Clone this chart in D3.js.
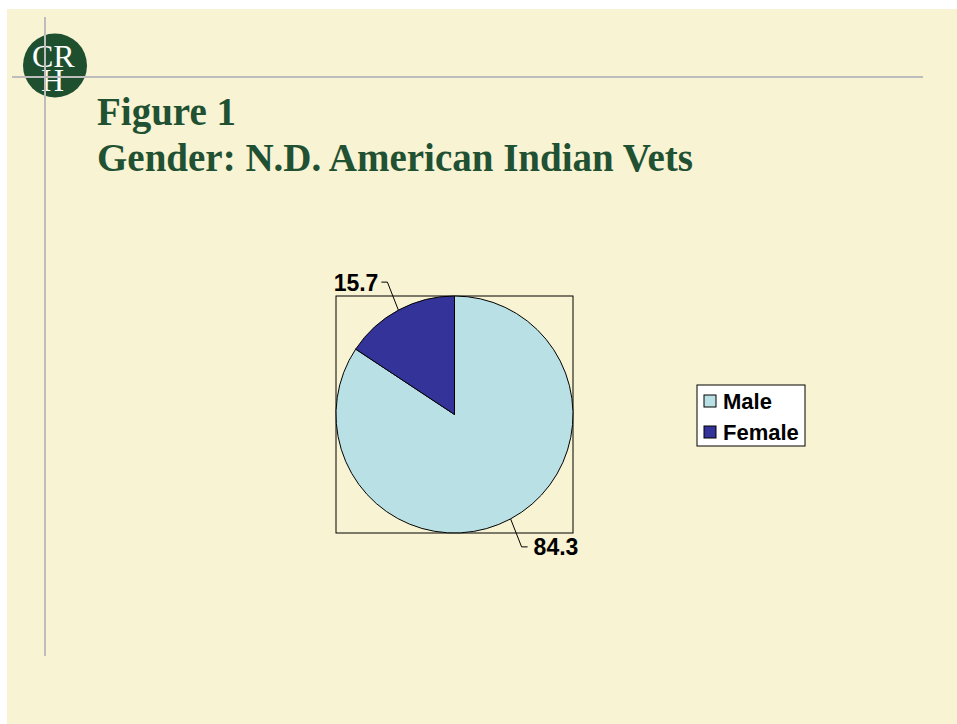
<!DOCTYPE html>
<html>
<head>
<meta charset="utf-8">
<script src="https://cdn.jsdelivr.net/npm/d3@7"></script>
<style>
  body { margin: 0; background: #ffffff; }
  svg { display: block; }
</style>
</head>
<body>
<div id="plot"></div>
<script>
const categories = ["Male", "Female"];
const values = [84.3, 15.7];
const colors = ["#b9e0e4", "#333399"];
const titleLines = ["Figure 1", "Gender: N.D. American Indian Vets"];

const width = 957;
const height = 724;

const svg = d3.select("#plot").append("svg")
  .attr("width", width)
  .attr("height", height);

// slide background
svg.append("rect")
  .attr("x", 7).attr("y", 9)
  .attr("width", width - 7).attr("height", height - 9)
  .attr("fill", "#f8f3d3");

// logo: letters stacked in the circle
const logo = svg.append("g");
logo.append("circle")
  .attr("cx", 55).attr("cy", 65.5).attr("r", 32)
  .attr("fill", "#1e5030");
const logoText = logo.append("text")
  .attr("font-family", "Liberation Serif, Times New Roman, serif")
  .attr("font-size", 32)
  .attr("fill", "#ffffff");
logoText.append("tspan").attr("x", 32).attr("y", 67).text("CR");
logoText.append("tspan").attr("x", 41).attr("y", 91).text("H");

// guide lines
svg.append("line")
  .attr("x1", 45).attr("x2", 45).attr("y1", 17).attr("y2", 656)
  .attr("stroke", "#bdbdbd").attr("stroke-width", 2);
svg.append("line")
  .attr("x1", 12).attr("x2", 923).attr("y1", 77).attr("y2", 77)
  .attr("stroke", "#bdbdbd").attr("stroke-width", 2);

// title
svg.selectAll(".title")
  .data(titleLines)
  .enter().append("text")
  .attr("class", "title")
  .attr("x", 97)
  .attr("y", (d, i) => 125 + i * 46)
  .attr("font-family", "Liberation Serif, Times New Roman, serif")
  .attr("font-weight", "bold")
  .attr("font-size", 39)
  .attr("fill", "#1f5132")
  .text(d => d);

// pie
const cx = 454.5, cy = 414.5, r = 118.5;
const data = categories.map((c, i) => ({ category: c, value: values[i], color: colors[i] }));

svg.append("rect")
  .attr("x", cx - r).attr("y", cy - r)
  .attr("width", 2 * r).attr("height", 2 * r)
  .attr("fill", "none")
  .attr("stroke", "#000").attr("stroke-width", 1);

const pie = d3.pie().sort(null).value(d => d.value);
const arc = d3.arc().innerRadius(0).outerRadius(r);
const arcs = pie(data);

const g = svg.append("g").attr("transform", `translate(${cx},${cy})`);
g.selectAll("path")
  .data(arcs)
  .enter().append("path")
  .attr("d", arc)
  .attr("fill", d => d.data.color)
  .attr("stroke", "#000")
  .attr("stroke-width", 1);

// labels with leader lines
const labelFont = "Liberation Sans, Arial, sans-serif";
arcs.forEach(a => {
  const mid = (a.startAngle + a.endAngle) / 2;
  const px = Math.sin(mid) * r, py = -Math.cos(mid) * r;
  const dir = Math.sin(mid) >= 0 ? 1 : -1;
  const down = -Math.cos(mid) >= 0 ? 1 : -1;
  const ex = px + dir * 11, ey = py + down * 28;
  const hx = ex + dir * 6;
  g.append("polyline")
    .attr("points", `${px},${py} ${ex},${ey} ${hx},${ey}`)
    .attr("fill", "none")
    .attr("stroke", "#000")
    .attr("stroke-width", 1);
  g.append("text")
    .attr("x", hx + dir * (dir > 0 ? 6 : 3))
    .attr("y", ey + 8.5)
    .attr("text-anchor", dir > 0 ? "start" : "end")
    .attr("font-family", labelFont)
    .attr("font-weight", "bold")
    .attr("font-size", 23)
    .attr("fill", "#000")
    .text(a.data.value.toFixed(1));
});

// legend
const legend = svg.append("g").attr("transform", "translate(697,385)");
legend.append("rect")
  .attr("width", 108).attr("height", 61)
  .attr("fill", "#ffffff")
  .attr("stroke", "#000").attr("stroke-width", 1);
const items = legend.selectAll(".item")
  .data(data)
  .enter().append("g")
  .attr("class", "item")
  .attr("transform", (d, i) => `translate(7,${10 + i * 31})`);
items.append("rect")
  .attr("width", 12).attr("height", 12)
  .attr("fill", d => d.color)
  .attr("stroke", "#000").attr("stroke-width", 1);
items.append("text")
  .attr("x", 19).attr("y", 13.5)
  .attr("font-family", labelFont)
  .attr("font-weight", "bold")
  .attr("font-size", 22)
  .attr("fill", "#000")
  .text(d => d.category);
</script>
</body>
</html>
